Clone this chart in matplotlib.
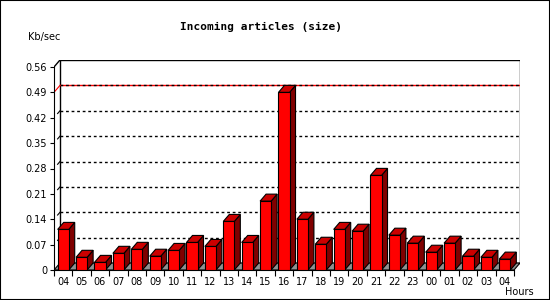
import matplotlib.pyplot as plt
from matplotlib.patches import Polygon, Rectangle

hours = ['04', '05', '06', '07', '08', '09', '10', '11', '12', '13', '14', '15', '16',
         '17', '18', '19', '20', '21', '22', '23', '00', '01', '02', '03', '04']
kb_sec = [0.112, 0.035, 0.021, 0.046, 0.057, 0.038, 0.054, 0.076, 0.065, 0.134, 0.076, 0.190, 0.490,
          0.140, 0.071, 0.112, 0.107, 0.261, 0.096, 0.074, 0.049, 0.074, 0.038, 0.035, 0.030]
y_ticks = [0, 0.07, 0.14, 0.21, 0.28, 0.35, 0.42, 0.49, 0.56]
y_labels = ['0', '0.07', '0.14', '0.21', '0.28', '0.35', '0.42', '0.49', '0.56']

W, H = 550, 300
n = len(hours)
ymax = y_ticks[-1]

fig = plt.figure(figsize=(W / 100, H / 100), dpi=100)
ax = fig.add_axes([54 / W, 30 / H, 466 / W, 210 / H])

# 3d depth: 6px right, 7px up
px_x = 460 / n
px_y = 203 / ymax
dx = 6 / px_x
dy = 7 / px_y
ax.set_xlim(-0.5, n - 0.5 + dx)
ax.set_ylim(0, ymax + dy)

# back wall + grid
ax.add_patch(Rectangle((-0.5 + dx, dy), n, ymax, fc='white', ec='black', lw=1, zorder=0))
for v in y_ticks[1:-1]:
    if v == 0.49:
        ax.plot([-0.5 + dx, n - 0.5 + dx], [v + dy] * 2, color='red', lw=1, zorder=1)
        ax.plot([-0.5 + dx, n - 0.5 + dx], [v + dy] * 2, color='black', lw=1,
                ls=(0, (2, 2)), zorder=1)
        ax.plot([-0.5, -0.5 + dx], [v, v + dy], color='red', lw=0.8, zorder=1)
    else:
        ax.plot([-0.5 + dx, n - 0.5 + dx], [v + dy] * 2, color='black', lw=1,
                ls=(0, (2, 2)), zorder=1)
        ax.plot([-0.5 + dx * 0.6, -0.5 + dx], [v + dy * 0.6, v + dy], color='black', lw=0.8, zorder=1)
ax.plot([-0.5, -0.5 + dx], [ymax, ymax + dy], color='black', lw=1, zorder=1)

# floor
ax.add_patch(Polygon([(-0.5, 0), (n - 0.5, 0), (n - 0.5 + dx, dy), (-0.5 + dx, dy)],
                     closed=True, fc='#909090', ec='black', lw=0.8, zorder=1))

# bars
bw = 0.6
for i, v in enumerate(kb_sec):
    x0, x1 = i - bw / 2, i + bw / 2
    ax.add_patch(Polygon([(x1, 0), (x1 + dx, dy), (x1 + dx, v + dy), (x1, v)],
                         closed=True, fc='#800000', ec='black', lw=0.8, zorder=2))
    ax.add_patch(Polygon([(x0, v), (x1, v), (x1 + dx, v + dy), (x0 + dx, v + dy)],
                         closed=True, fc='#cc0000', ec='black', lw=0.8, zorder=2))
ax.bar(range(n), kb_sec, width=bw, color='#ff0000', edgecolor='black', lw=0.8, zorder=3)

# axes
for s in ['top', 'right']:
    ax.spines[s].set_visible(False)
ax.spines['left'].set_bounds(0, ymax)
ax.spines['bottom'].set_bounds(-0.5, n - 0.5)
ax.set_yticks(y_ticks)
ax.set_yticklabels(y_labels, fontsize=7, family='DejaVu Sans')
ax.set_xticks(range(n))
ax.set_xticklabels(hours, fontsize=7, family='DejaVu Sans')
ax.set_xticks([i - 0.5 for i in range(n + 1)], minor=True)
ax.tick_params(axis='y', length=3, width=0.8, pad=2)
ax.tick_params(axis='x', which='major', length=0, pad=5)
ax.tick_params(axis='x', which='minor', length=4, width=0.8)

fig.text(261 / W, 1 - 27 / H, 'Incoming articles (size)', ha='center', va='center',
         fontsize=8, fontweight='bold', family='DejaVu Sans Mono')
fig.text(28 / W, 1 - 37 / H, 'Kb/sec', ha='left', va='center', fontsize=7, family='DejaVu Sans')
fig.text(534 / W, 1 - 292 / H, 'Hours', ha='right', va='center', fontsize=7, family='DejaVu Sans')

fig.patches.append(Rectangle((0, 0), 1, 1, transform=fig.transFigure, fill=False,
                             ec='black', lw=1.5))

fig.savefig('out.png', dpi=100)
